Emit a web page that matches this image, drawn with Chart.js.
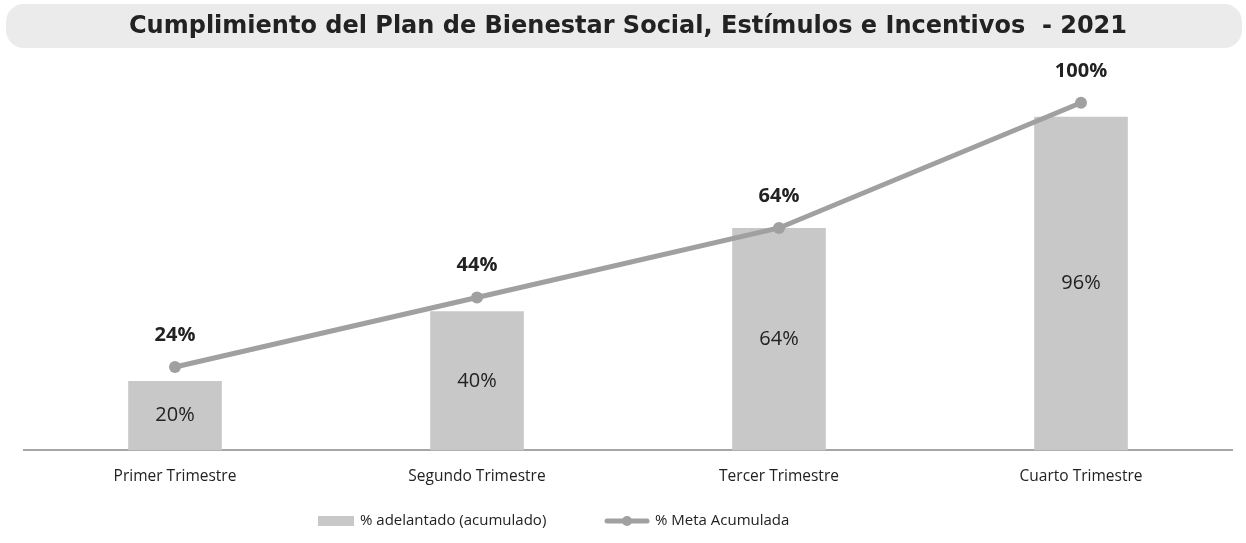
<!DOCTYPE html>
<html>
<head>
<meta charset="utf-8">
<script src="https://cdn.jsdelivr.net/npm/chart.js@4"></script>
<style>
  html, body { margin: 0; padding: 0; background: #fff; }
  #wrap { width: 1246px; height: 543px; }
</style>
</head>
<body>
<div id="wrap"><canvas id="chart" width="1246" height="543"></canvas></div>
<script>
// Data
const categories = ['Primer Trimestre', 'Segundo Trimestre', 'Tercer Trimestre', 'Cuarto Trimestre'];
const adelantado = [20, 40, 64, 96];
const metaAcumulada = [24, 44, 64, 100];
const seriesNames = ['% adelantado (acumulado)', '% Meta Acumulada'];
const chartTitle = 'Cumplimiento del Plan de Bienestar Social, Estímulos e Incentivos  - 2021';

const barColor = '#c8c8c8';
const lineColor = '#a0a0a0';
const textColor = '#222';
const baseFont = '"Open Sans", sans-serif';

// Title background box
const titleBox = {
    id: 'titleBox',
    beforeDraw(chart) {
        const ctx = chart.ctx;
        ctx.save();
        ctx.fillStyle = '#ebebeb';
        ctx.beginPath();
        ctx.roundRect(6, 4, chart.width - 10, 44, 18);
        ctx.fill();
        ctx.restore();
    }
};

// Value labels
const valueLabels = {
    id: 'valueLabels',
    afterDatasetsDraw(chart) {
        const ctx = chart.ctx;
        ctx.save();
        ctx.textAlign = 'center';
        ctx.textBaseline = 'middle';
        ctx.fillStyle = textColor;
        const bars = chart.getDatasetMeta(1).data;
        ctx.font = '20px ' + baseFont;
        bars.forEach((el, i) => {
            ctx.fillText(adelantado[i] + '%', el.x, (el.y + el.base) / 2);
        });
        const pts = chart.getDatasetMeta(0).data;
        ctx.font = 'bold 20px ' + baseFont;
        pts.forEach((el, i) => {
            ctx.fillText(metaAcumulada[i] + '%', el.x, el.y - 32);
        });
        ctx.restore();
    }
};

// Legend drawn below the axis
const bottomLegend = {
    id: 'bottomLegend',
    afterDraw(chart) {
        const ctx = chart.ctx;
        const y = 521;
        ctx.save();
        ctx.font = '15px ' + baseFont;
        ctx.fillStyle = textColor;
        ctx.textBaseline = 'middle';
        ctx.textAlign = 'left';
        // bar entry
        let x = 318;
        ctx.fillStyle = barColor;
        ctx.fillRect(x, y - 5, 36, 10);
        ctx.fillStyle = textColor;
        ctx.fillText(seriesNames[0], x + 42, y);
        // line entry
        x = 605;
        ctx.strokeStyle = lineColor;
        ctx.lineWidth = 5;
        ctx.lineCap = 'round';
        ctx.beginPath(); ctx.moveTo(x + 2, y); ctx.lineTo(x + 42, y); ctx.stroke();
        ctx.fillStyle = lineColor;
        ctx.beginPath(); ctx.arc(x + 22, y, 5, 0, Math.PI * 2); ctx.fill();
        ctx.fillStyle = textColor;
        ctx.fillText(seriesNames[1], x + 50, y);
        ctx.restore();
    }
};

new Chart(document.getElementById('chart'), {
    data: {
        labels: categories,
        datasets: [{
            type: 'line',
            label: seriesNames[1],
            data: metaAcumulada,
            borderColor: lineColor,
            backgroundColor: lineColor,
            borderWidth: 5,
            pointRadius: 6,
            pointBackgroundColor: lineColor,
            pointBorderWidth: 0,
            clip: false,
            order: 0
        }, {
            type: 'bar',
            label: seriesNames[0],
            data: adelantado,
            backgroundColor: barColor,
            barPercentage: 0.62,
            categoryPercentage: 0.5,
            order: 1
        }]
    },
    options: {
        responsive: false,
        animation: false,
        layout: { padding: { left: 24, right: 14, top: 0, bottom: 40 } },
        scales: {
            x: {
                grid: { display: false, drawTicks: false },
                border: { display: true, color: '#a6a6a6', width: 2 },
                ticks: { color: textColor, font: { family: baseFont, size: 15.5 }, padding: 17 }
            },
            y: {
                display: false,
                min: 0,
                max: 100
            }
        },
        plugins: {
            title: {
                display: true,
                text: chartTitle,
                color: textColor,
                font: { family: '"DejaVu Sans", sans-serif', size: 24, weight: 'bold' },
                padding: { top: 12, bottom: 62 }
            },
            legend: { display: false },
            tooltip: { enabled: false }
        }
    },
    plugins: [titleBox, valueLabels, bottomLegend]
});
</script>
</body>
</html>
